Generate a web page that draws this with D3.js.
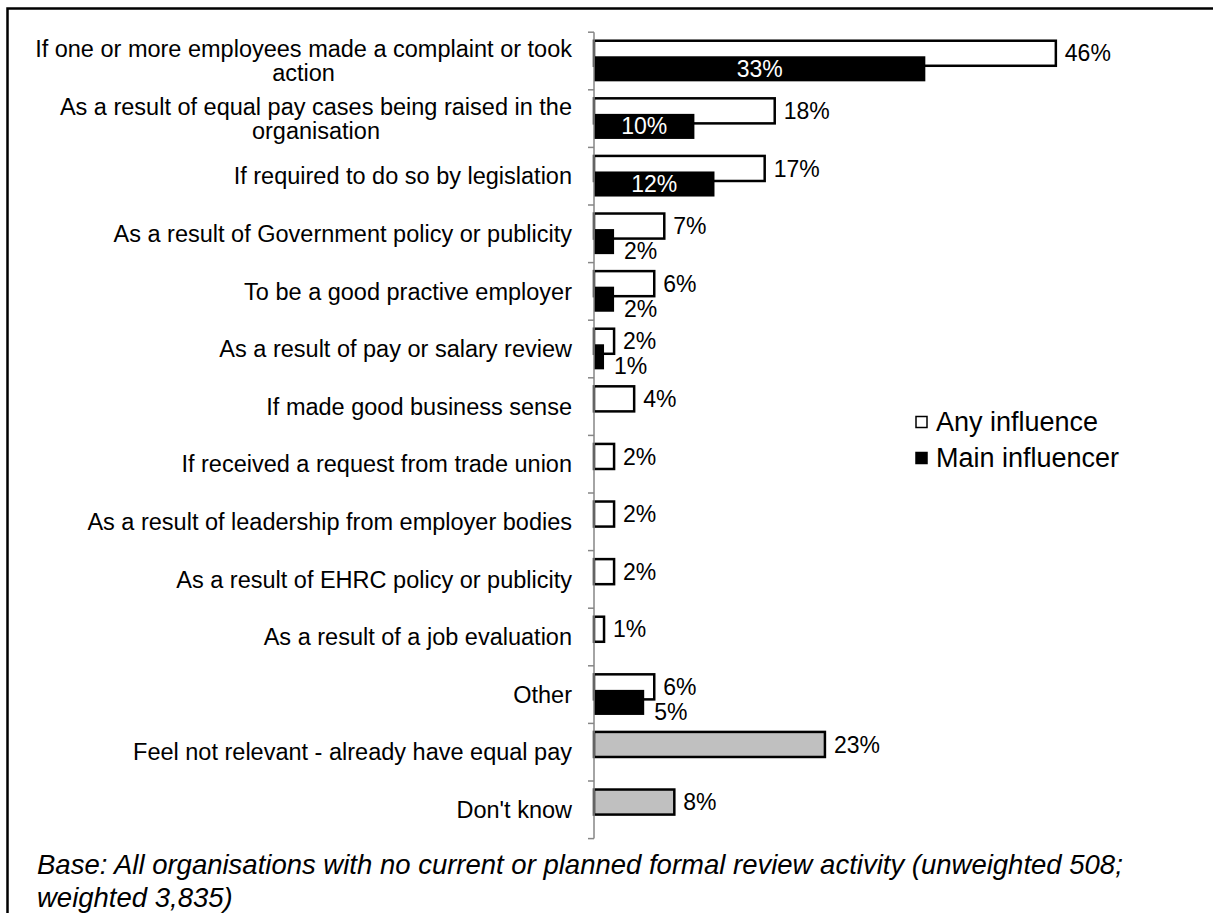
<!DOCTYPE html>
<html>
<head>
<meta charset="utf-8">
<script src="https://cdn.jsdelivr.net/npm/d3@7"></script>
<style>
  html, body { margin: 0; padding: 0; background: #ffffff; }
  svg { display: block; font-family: "Liberation Sans", Arial, sans-serif; }
</style>
</head>
<body>
<svg id="chart" width="1213" height="913"></svg>
<script>
// Reasons that would prompt an equal pay review
const categories = [
  "If one or more employees made a complaint or took action",
  "As a result of equal pay cases being raised in the organisation",
  "If required to do so by legislation",
  "As a result of Government policy or publicity",
  "To be a good practive employer",
  "As a result of pay or salary review",
  "If made good business sense",
  "If received a request from trade union",
  "As a result of leadership from employer bodies",
  "As a result of EHRC policy or publicity",
  "As a result of a job evaluation",
  "Other",
  "Feel not relevant - already have equal pay",
  "Don't know"
];

// Wrapped category labels (first line / second line)
const wrappedLabels = {
  0: ["If one or more employees made a complaint or took", "action"],
  1: ["As a result of equal pay cases being raised in the", "organisation"]
};

// Percentages
const anyInfluence   = [46, 18, 17, 7, 6, 2, 4, 2, 2, 2, 1, 6, null, null];
const mainInfluencer = [33, 10, 12, 2, 2, 1, null, null, null, null, null, 5, null, null];
const otherResponses = [null, null, null, null, null, null, null, null, null, null, null, null, 23, 8];

const legendLabels = ["Any influence", "Main influencer"];
const footnoteLines = [
  "Base: All organisations with no current or planned formal review activity (unweighted 508;",
  "weighted 3,835)"
];

const svg = d3.select("#chart");

// Outer frame (continues past the right and bottom edges)
svg.append("rect")
  .attr("x", 7.5).attr("y", 8.5)
  .attr("width", 1400).attr("height", 1100)
  .attr("fill", "none").attr("stroke", "#000").attr("stroke-width", 2.5);

const x = d3.scaleLinear().domain([0, 50]).range([594, 594 + 502]);
const y = d3.scaleBand().domain(d3.range(categories.length)).range([32.2, 838.6]).padding(0);
const bw = y.bandwidth();

const barH = bw * 0.435;
const anyOff = bw * 0.148;
const mainOff = bw * 0.418;

const labelFont = 23;
const catFont = 23.5;
const g = svg.append("g");

// Bars: "any influence" (white) and the standalone responses (grey)
const primary = categories.map((c, i) => ({
  i,
  v: anyInfluence[i] != null ? anyInfluence[i] : otherResponses[i],
  grey: anyInfluence[i] == null
})).filter(d => d.v != null);

g.selectAll("rect.any").data(primary).join("rect")
  .attr("class", "any")
  .attr("x", x(0))
  .attr("y", d => y(d.i) + anyOff)
  .attr("width", d => x(d.v) - x(0))
  .attr("height", barH)
  .attr("fill", d => d.grey ? "#c0c0c0" : "#ffffff")
  .attr("stroke", "#000")
  .attr("stroke-width", 2.5);

const main = categories.map((c, i) => ({ i, v: mainInfluencer[i] })).filter(d => d.v != null);

g.selectAll("rect.main").data(main).join("rect")
  .attr("class", "main")
  .attr("x", x(0))
  .attr("y", d => y(d.i) + mainOff)
  .attr("width", d => x(d.v) - x(0))
  .attr("height", barH)
  .attr("fill", "#000");

// Value labels
g.selectAll("text.anyLbl").data(primary).join("text")
  .attr("class", "anyLbl")
  .attr("x", d => x(d.v) + 9)
  .attr("y", d => y(d.i) + anyOff + barH / 2)
  .attr("dy", "0.35em")
  .attr("font-size", labelFont)
  .attr("fill", "#000")
  .text(d => d.v + "%");

g.selectAll("text.mainLbl").data(main).join("text")
  .attr("class", "mainLbl")
  .attr("x", d => d.v >= 10 ? (x(0) + x(d.v)) / 2 : x(d.v) + 10)
  .attr("y", d => d.v >= 10 ? y(d.i) + mainOff + barH / 2 : y(d.i) + mainOff + barH - 3)
  .attr("dy", "0.35em")
  .attr("text-anchor", d => d.v >= 10 ? "middle" : "start")
  .attr("font-size", labelFont)
  .attr("fill", d => d.v >= 10 ? "#fff" : "#000")
  .text(d => d.v + "%");

// Category axis
const axis = svg.append("g");
axis.append("line")
  .attr("x1", x(0)).attr("x2", x(0))
  .attr("y1", y.range()[0]).attr("y2", y.range()[1])
  .attr("stroke", "#868686").attr("stroke-width", 1.5);
const boundaries = categories.map((c, i) => y(i)).concat([y.range()[1]]);
axis.selectAll("line.tick").data(boundaries).join("line")
  .attr("class", "tick")
  .attr("x1", x(0) - 6).attr("x2", x(0))
  .attr("y1", d => d).attr("y2", d => d)
  .attr("stroke", "#868686").attr("stroke-width", 1.5);

const catRight = 572;
const lineGap = 24;
categories.forEach((c, i) => {
  const cy = y(i) + bw / 2;
  if (wrappedLabels[i]) {
    const lines = wrappedLabels[i];
    const t = axis.append("text")
      .attr("font-size", catFont).attr("fill", "#000")
      .attr("text-anchor", "middle");
    lines.forEach((ln, k) => {
      t.append("tspan").attr("x", 0)
        .attr("y", cy + (k - (lines.length - 1) / 2) * lineGap)
        .attr("dy", "0.35em").text(ln);
    });
    const w = d3.max(t.selectAll("tspan").nodes(), n => n.getComputedTextLength());
    t.selectAll("tspan").attr("x", catRight - w / 2);
  } else {
    axis.append("text")
      .attr("x", catRight).attr("y", cy).attr("dy", "0.35em")
      .attr("text-anchor", "end")
      .attr("font-size", catFont).attr("fill", "#000")
      .text(c);
  }
});

// Legend
const legend = svg.append("g");
const legendY = [422, 458];
legendLabels.forEach((lbl, k) => {
  legend.append("rect")
    .attr("x", 916).attr("y", legendY[k] - 5.5)
    .attr("width", 11).attr("height", 11)
    .attr("fill", k === 0 ? "#fff" : "#000")
    .attr("stroke", "#000").attr("stroke-width", 1.5);
  legend.append("text")
    .attr("x", 936).attr("y", legendY[k]).attr("dy", "0.35em")
    .attr("font-size", 27).attr("fill", "#000")
    .text(lbl);
});

// Footnote
const foot = svg.append("text")
  .attr("font-size", 27.5).attr("font-style", "italic").attr("fill", "#000");
footnoteLines.forEach((ln, k) => {
  foot.append("tspan").attr("x", 37).attr("y", 874 + k * 33).text(ln);
});
</script>
</body>
</html>
